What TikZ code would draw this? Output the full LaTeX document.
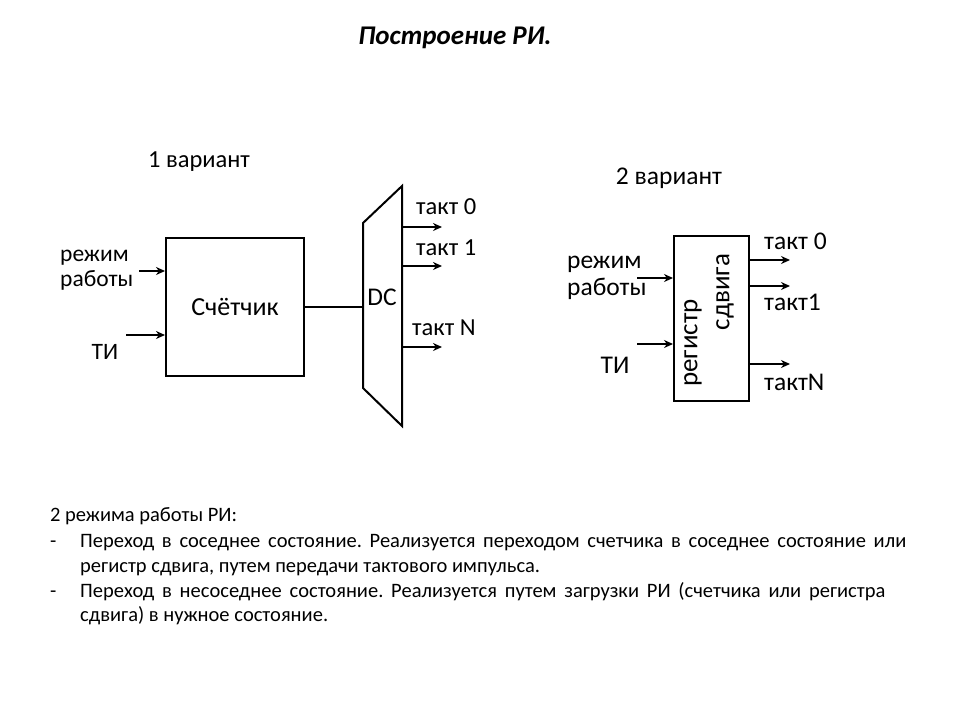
\documentclass[tikz,border=0pt]{standalone}
\usepackage{fontspec}
\setmainfont{Carlito}
\usetikzlibrary{arrows.meta}
\frenchspacing
\tikzset{
  blk/.style={draw, line width=2pt, inner sep=0pt},
  lbl/.style={inner sep=0pt, font=\fontsize{23.5}{25}\selectfont, align=left},
  lblb/.style={inner sep=0pt, font=\fontsize{25.5}{27}\selectfont, align=left},
  sig/.style={line width=2pt, -{Stealth[length=9pt,width=8pt]}},
  txt/.style={inner sep=0pt, anchor=base west, font=\fontsize{20.5}{24}\selectfont},
}
\begin{document}
\begin{tikzpicture}[x=1pt,y=-1pt]
\useasboundingbox (0,0) rectangle (960,720);
\node[font=\fontsize{27}{30}\selectfont\bfseries\itshape] (title) at (455,38) {Построение РИ.};

\node[lbl, font=\fontsize{24.5}{26}\selectfont] (var1) at (199,162) {1 вариант};
\node[blk, minimum width=138pt, minimum height=138pt, font=\fontsize{26}{28}\selectfont] (cnt) at (235,307) {Счётчик};
\node[lbl, anchor=west] (mode1) at (60,270.5) {режим\\работы};
\node[lbl] (ti1) at (105,352) {ТИ};
\coordinate (m1) at (139,271);
\coordinate (t1) at (126,335);
\draw[sig] (m1) -- (m1 -| cnt.west);
\draw[sig] (t1) -- (t1 -| cnt.west);
\draw[line width=2pt, line join=miter] (363,223) coordinate (dcA) -- (402,186) coordinate (dcB)
  -- (402,426) coordinate (dcC) -- (363,388) coordinate (dcD) -- cycle;
\node[lbl, font=\fontsize{25.5}{27}\selectfont] (dc) at (382,297) {DC};
\coordinate (dcin) at (363,307);
\draw[line width=2pt] (cnt.east) -- (dcin);
\coordinate (o0) at (402,227);
\coordinate (o1) at (402,266);
\coordinate (oN) at (402,347);
\draw[sig] (o0) -- ++(40,0);
\draw[sig] (o1) -- ++(40,0);
\draw[sig] (oN) -- ++(40,0);
\node[lbl, anchor=west, font=\fontsize{24.5}{26}\selectfont] (k0) at (416,207) {такт 0};
\node[lbl, anchor=west, font=\fontsize{24.5}{26}\selectfont] (k1) at (416,248) {такт 1};
\node[lbl, anchor=west, font=\fontsize{24.5}{26}\selectfont] (kN) at (412,328) {такт N};

\node[lblb] (var2) at (669,178) {2 вариант};
\node[blk, minimum width=75pt, minimum height=165pt] (reg) at (711.5,318.5) {};
\node[lblb, rotate=90, font=\fontsize{27}{28}\selectfont] (regA) at (693,343) {регистр};
\node[lblb, rotate=90, font=\fontsize{27}{28}\selectfont] (regB) at (725,292) {сдвига};
\node[lblb, anchor=west] (mode2) at (567,278) {режим\\работы};
\node[lblb] (ti2) at (615,365) {ТИ};
\coordinate (m2) at (637,278);
\coordinate (t2) at (637,344);
\draw[sig] (m2) -- (m2 -| reg.west);
\draw[sig] (t2) -- (t2 -| reg.west);
\coordinate (r0) at (749,260);
\coordinate (r1) at (749,286);
\coordinate (rN) at (749,364);
\draw[sig] (r0) -- ++(41,0);
\draw[sig] (r1) -- ++(41,0);
\draw[sig] (rN) -- ++(41,0);
\node[lblb, anchor=west] (q0) at (764,241) {такт 0};
\node[lblb, anchor=west] (q1) at (764,302) {такт1};
\node[lblb, anchor=west] (qN) at (764,382) {тактN};

\node[txt] (p0) at (50,521) {2 режима работы РИ:};
\node[txt] (d1) at (50,547) {-};
\node[txt] (p1) at (80,547) {\makebox[826pt][s]{Переход в соседнее состояние. Реализуется переходом счетчика в соседнее состояние или}};
\node[txt] (p2) at (80,572) {регистр сдвига, путем передачи тактового импульса.};
\node[txt] (d2) at (50,597) {-};
\node[txt] (p3) at (80,597) {\makebox[805pt][s]{Переход в несоседнее состояние. Реализуется путем загрузки РИ (счетчика или регистра}};
\node[txt] (p4) at (80,621) {сдвига) в нужное состояние.};
\end{tikzpicture}
\end{document}
